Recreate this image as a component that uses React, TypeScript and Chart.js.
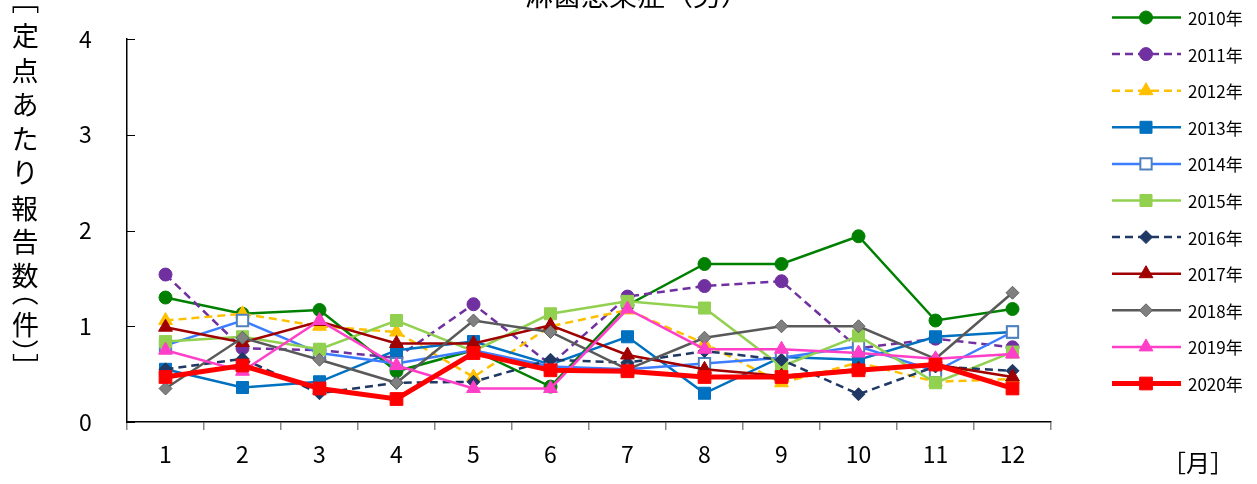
import React, { useEffect, useRef } from "react";
import { Chart, registerables } from "chart.js";
import { drawPoint } from "chart.js/helpers";

Chart.register(...registerables);

const months = ["1", "2", "3", "4", "5", "6", "7", "8", "9", "10", "11", "12"];
const yTickValues = [0, 1, 2, 3, 4];
const seriesNames = ["2010年", "2011年", "2012年", "2013年", "2014年", "2015年", "2016年", "2017年", "2018年", "2019年", "2020年"];

const s2010 = [1.30, 1.13, 1.17, 0.53, 0.75, 0.37, 1.22, 1.65, 1.65, 1.94, 1.06, 1.18];
const s2011 = [1.54, 0.77, 0.75, 0.67, 1.23, 0.60, 1.31, 1.42, 1.47, 0.77, 0.87, 0.78];
const s2012 = [1.06, 1.13, 1.00, 0.94, 0.47, 1.00, 1.17, 0.82, 0.41, 0.62, 0.42, 0.45];
const s2013 = [0.55, 0.36, 0.42, 0.75, 0.84, 0.60, 0.89, 0.30, 0.68, 0.65, 0.89, 0.94];
const s2014 = [0.80, 1.06, 0.72, 0.61, 0.75, 0.58, 0.55, 0.61, 0.67, 0.79, 0.53, 0.94];
const s2015 = [0.84, 0.89, 0.76, 1.06, 0.74, 1.13, 1.26, 1.19, 0.58, 0.90, 0.41, 0.73];
const s2016 = [0.55, 0.66, 0.30, 0.41, 0.42, 0.65, 0.62, 0.74, 0.65, 0.29, 0.58, 0.535];
const s2017 = [0.99, 0.83, 1.05, 0.82, 0.82, 1.01, 0.70, 0.55, 0.48, 0.55, 0.60, 0.47];
const s2018 = [0.35, 0.88, 0.65, 0.41, 1.06, 0.94, 0.55, 0.88, 1.00, 1.00, 0.66, 1.35];
const s2019 = [0.75, 0.53, 1.06, 0.59, 0.35, 0.35, 1.18, 0.76, 0.76, 0.72, 0.66, 0.71];
const s2020 = [0.47, 0.59, 0.35, 0.24, 0.72, 0.54, 0.53, 0.47, 0.47, 0.54, 0.60, 0.35];

const seriesValues = [s2010, s2011, s2012, s2013, s2014, s2015, s2016, s2017, s2018, s2019, s2020];

const titleText = "淋菌感染症（男）";
const yTitleChars = ["［", "定", "点", "あ", "た", "り", "報", "告", "数", "（", "件", "）", "］"];
const xTitleText = "［月］";

type Style = {
  line: string;
  fill: string;
  border: string;
  borderW: number;
  dash: number[];
  width: number;
  shape: string;
  radius: number;
};

const styles: Style[] = [
  { line: "#008000", fill: "#008000", border: "#008000", borderW: 1, dash: [], width: 2.5, shape: "circle", radius: 6.5 },
  { line: "#7030A0", fill: "#7030A0", border: "#7030A0", borderW: 1, dash: [8, 5], width: 2.5, shape: "circle", radius: 6.5 },
  { line: "#FFC000", fill: "#FFC000", border: "#FFC000", borderW: 1, dash: [8, 5], width: 2.5, shape: "triangle", radius: 8 },
  { line: "#0070C0", fill: "#0070C0", border: "#0070C0", borderW: 1, dash: [], width: 2.5, shape: "rect", radius: 8.5 },
  { line: "#3C7CFF", fill: "#FFFFFF", border: "#4F81BD", borderW: 2, dash: [], width: 2.5, shape: "rect", radius: 8 },
  { line: "#92D050", fill: "#92D050", border: "#92D050", borderW: 1, dash: [], width: 2.5, shape: "rect", radius: 8.5 },
  { line: "#1F3864", fill: "#1F3864", border: "#1F3864", borderW: 1, dash: [8, 5], width: 2.5, shape: "rectRot", radius: 6.5 },
  { line: "#A00000", fill: "#A00000", border: "#A00000", borderW: 1, dash: [], width: 2.5, shape: "triangle", radius: 8 },
  { line: "#595959", fill: "#808080", border: "#606060", borderW: 1, dash: [], width: 2.5, shape: "rectRot", radius: 6.5 },
  { line: "#FF3FC8", fill: "#FF3FC8", border: "#FF3FC8", borderW: 1, dash: [], width: 2.5, shape: "triangle", radius: 8 },
  { line: "#FF0000", fill: "#FF0000", border: "#FF0000", borderW: 1, dash: [], width: 5, shape: "rect", radius: 9 },
];

const FONT = "'Noto Sans CJK JP', 'Noto Sans', sans-serif";

const decorPlugin = {
  id: "decor",
  afterDraw(chart: any) {
    const ctx = chart.ctx as CanvasRenderingContext2D;
    const area = chart.chartArea;
    const yScale = chart.scales.y;
    ctx.save();
    // inward y ticks
    ctx.strokeStyle = "#000";
    ctx.lineWidth = 1;
    for (const v of yTickValues) {
      const py = Math.round(yScale.getPixelForValue(v)) + 0.5;
      ctx.beginPath();
      ctx.moveTo(area.left, py);
      ctx.lineTo(area.left + 8, py);
      ctx.stroke();
    }
    // title (partly cut off at top)
    ctx.fillStyle = "#000";
    ctx.font = `28px ${FONT}`;
    ctx.textAlign = "center";
    ctx.textBaseline = "alphabetic";
    ctx.fillText(titleText, 637, 6);

    // vertical y-axis title
    const yCenters = [10, 35, 71, 104, 138, 172, 208, 241, 275, 301, 324, 344, 357];
    ctx.font = `27px ${FONT}`;
    ctx.textAlign = "left";
    ctx.textBaseline = "alphabetic";
    yTitleChars.forEach((ch, i) => {
      const m = ctx.measureText(ch);
      const cx = (m.actualBoundingBoxRight - m.actualBoundingBoxLeft) / 2;
      const cy = (m.actualBoundingBoxDescent - m.actualBoundingBoxAscent) / 2;
      const rotate = "［（）］".includes(ch);
      ctx.save();
      ctx.translate(25, yCenters[i]);
      if (rotate) ctx.rotate(Math.PI / 2);
      ctx.fillText(ch, -cx, -cy);
      ctx.restore();
    });

    // x title
    ctx.font = `24px ${FONT}`;
    {
      const m = ctx.measureText(xTitleText);
      const cx = (m.actualBoundingBoxRight - m.actualBoundingBoxLeft) / 2;
      const cy = (m.actualBoundingBoxDescent - m.actualBoundingBoxAscent) / 2;
      ctx.fillText(xTitleText, 1198 - cx, 463 - cy);
    }

    // legend
    ctx.font = `17px ${FONT}`;
    ctx.textBaseline = "middle";
    seriesNames.forEach((name, i) => {
      const st = styles[i];
      const y = 17.5 + i * 36.6;
      ctx.save();
      ctx.strokeStyle = st.line;
      ctx.lineWidth = st.width;
      ctx.setLineDash(st.dash);
      ctx.beginPath();
      ctx.moveTo(1112, y);
      ctx.lineTo(1181, y);
      ctx.stroke();
      ctx.restore();
      ctx.save();
      ctx.fillStyle = st.fill;
      ctx.strokeStyle = st.border;
      ctx.lineWidth = st.borderW;
      drawPoint(ctx, { pointStyle: st.shape as any, radius: st.radius, rotation: 0, borderWidth: st.borderW }, 1146, y);
      ctx.restore();
      ctx.fillStyle = "#000";
      ctx.textAlign = "left";
      ctx.fillText(name, 1188, y + 1);
    });
    ctx.restore();
  },
};

export default function App() {
  const ref = useRef<HTMLCanvasElement | null>(null);
  useEffect(() => {
    if (!ref.current) return;
    const datasets = seriesValues.map((vals, i) => {
      const st = styles[i];
      return {
        label: seriesNames[i],
        data: vals,
        borderColor: st.line,
        borderWidth: st.width,
        borderDash: st.dash,
        backgroundColor: st.fill,
        pointBackgroundColor: st.fill,
        pointBorderColor: st.border,
        pointBorderWidth: st.borderW,
        pointStyle: st.shape,
        pointRadius: st.radius,
        pointHoverRadius: st.radius,
        tension: 0,
        fill: false,
        order: 10 - i,
      };
    });
    const chart = new Chart(ref.current, {
      type: "line",
      data: { labels: months, datasets: datasets as any },
      options: {
        animation: false,
        responsive: false,
        devicePixelRatio: 1,
        layout: { padding: { left: 79, top: 39, right: 206, bottom: 0 } },
        plugins: { legend: { display: false }, title: { display: false }, tooltip: { enabled: false } },
        scales: {
          x: {
            type: "category",
            offset: true,
            grid: { drawOnChartArea: false, drawTicks: true, tickLength: 8, color: "#888", offset: true, lineWidth: 1.5 },
            border: { display: true, color: "#000", width: 1.5 },
            ticks: { color: "#000", font: { size: 23, family: FONT }, padding: 10, maxRotation: 0, autoSkip: false },
            afterFit: (scale: any) => { scale.height = 62; },
          },
          y: {
            min: 0,
            max: 4,
            grid: { drawOnChartArea: false, drawTicks: false },
            border: { display: true, color: "#000", width: 1.5 },
            ticks: { stepSize: 1, color: "#000", font: { size: 23, family: FONT }, padding: 2, crossAlign: "far" },
            afterFit: (scale: any) => { scale.width = 48; },
          },
        },
      },
      plugins: [decorPlugin],
    });
    return () => chart.destroy();
  }, []);
  return (
    <div style={{ position: "absolute", left: 0, top: 0, width: 1257, height: 484, background: "#fff" }}>
      <canvas ref={ref} width={1257} height={484} style={{ width: 1257, height: 484, display: "block" }} />
    </div>
  );
}
